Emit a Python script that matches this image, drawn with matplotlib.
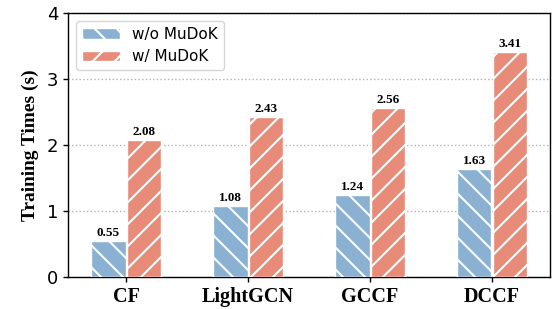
import matplotlib
matplotlib.use('Agg')
import matplotlib.pyplot as plt
import numpy as np

models = ['CF', 'LightGCN', 'GCCF', 'DCCF']
wo_mudok = [0.55, 1.08, 1.24, 1.63]
w_mudok = [2.08, 2.43, 2.56, 3.41]
series_names = ['w/o MuDoK', 'w/ MuDoK']

# higher dpi makes the hatch spacing wider; sizes are scaled back by s
DPI = 132
s = 100 / DPI

plt.rcParams['hatch.color'] = 'white'
plt.rcParams['hatch.linewidth'] = 1.5 * s
plt.rcParams['axes.linewidth'] = 1.0 * s
plt.rcParams['xtick.major.width'] = 1.0 * s
plt.rcParams['ytick.major.width'] = 1.0 * s
plt.rcParams['xtick.major.size'] = 3.5 * s
plt.rcParams['ytick.major.size'] = 3.5 * s
plt.rcParams['xtick.major.pad'] = 3.5 * s
plt.rcParams['ytick.major.pad'] = 3.5 * s

fig, ax = plt.subplots(figsize=(555 / DPI, 309 / DPI), dpi=DPI)
x = np.arange(len(models))
w = 0.28

b1 = ax.bar(x - w / 2 - 0.005, wo_mudok, width=w, color='#8AB1D2', edgecolor='white',
            hatch='\\\\', lw=1 * s, label=series_names[0], zorder=3)
b2 = ax.bar(x + w / 2 + 0.005, w_mudok, width=w, color='#E88B78', edgecolor='white',
            hatch='//', lw=1 * s, label=series_names[1], zorder=3)

for bars, vals in [(b1, wo_mudok), (b2, w_mudok)]:
    for r, v in zip(bars, vals):
        ax.text(r.get_x() + r.get_width() / 2, v + 0.03, f'{v:.2f}', ha='center', va='bottom',
                fontsize=9.5 * s, fontweight='bold', family='Liberation Serif')

ax.set_ylim(0, 4)
ax.set_xlim(-0.475, 3.475)
ax.set_yticks([0, 1, 2, 3, 4])
ax.tick_params(axis='y', labelsize=13 * s)
ax.set_xticks(x)
ax.set_xticklabels(models, fontsize=14.5 * s, fontweight='bold', family='Liberation Serif')
ax.set_ylabel('Training Times (s)', fontsize=14 * s, fontweight='bold', family='Liberation Serif',
              labelpad=6 * s)
ax.grid(axis='y', color='gray', alpha=0.6, linestyle=':', lw=1 * s, zorder=0)
ax.set_axisbelow(True)
leg = ax.legend(loc='upper left', fontsize=11 * s, handlelength=2.5)
leg.get_frame().set_linewidth(1 * s)

fig.subplots_adjust(left=0.123, right=0.991, top=0.958, bottom=0.104)
fig.savefig('out.png', dpi=DPI)
